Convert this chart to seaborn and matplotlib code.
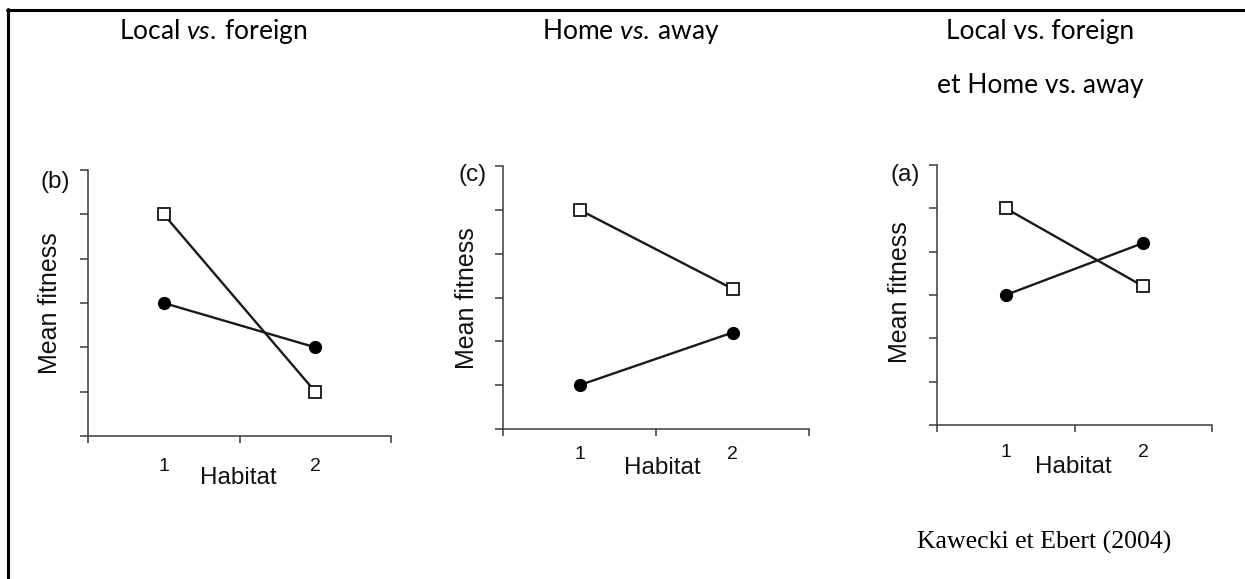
import matplotlib
matplotlib.use("Agg")
import matplotlib.pyplot as plt
import seaborn as sns
import pandas as pd
from matplotlib.lines import Line2D

# ---------------- data ----------------
habitat = [1, 2]
xtick_labels = ["1", "2"]
y_ticks = [0, 1, 2, 3, 4, 5, 6]

b_square = [5, 1]
b_circle = [3, 2]
c_square = [5, 3.2]
c_circle = [1, 2.2]
a_square = [5, 3.2]
a_circle = [3, 4.2]

panel_letters = ["(b)", "(c)", "(a)"]
top_titles = [r"Local $\it{vs.}\:$foreign", r"Home $\it{vs.}\:$away", "Local vs. foreign"]
second_title = "et Home vs. away"
source_text = "Kawecki et Ebert (2004)"
ylabel_text = "Mean fitness"
xlabel_text = "Habitat"

# ---------------- style ----------------
sns.set_style("ticks")
plt.rcParams["font.family"] = ["Liberation Sans", "DejaVu Sans"]
plt.rcParams["mathtext.fontset"] = "custom"
plt.rcParams["mathtext.rm"] = "Lato"
plt.rcParams["mathtext.it"] = "Lato:italic"

W, H = 1245, 579
fig = plt.figure(figsize=(W / 100, H / 100), dpi=100)
fig.patch.set_facecolor("white")


def fx(x):
    return x / W


def fy(y):
    return 1 - y / H


# panel geometry in pixels: left, top, right, bottom
panels = [
    dict(box=(88, 170, 391, 436), sq=b_square, ci=b_circle, ylab=(50, 303),
         xlab=(238, 478), let=(55, 182), pad=15.5),
    dict(box=(503, 166, 809, 429), sq=c_square, ci=c_circle, ylab=(467, 298),
         xlab=(662, 468), let=(473, 175), pad=12),
    dict(box=(937, 165, 1212, 425), sq=a_square, ci=a_circle, ylab=(900, 292),
         xlab=(1073, 467), let=(905, 175), pad=14),
]

line_col = "#1a1a1a"
axis_col = "#3a3a3a"

for p, letter in zip(panels, panel_letters):
    l, t, r, b = p["box"]
    ax = fig.add_axes([fx(l), fy(b), (r - l) / W, (b - t) / H])
    ax.set_facecolor("white")

    sns.lineplot(x=habitat, y=p["sq"], ax=ax, color=line_col, linewidth=1.7,
                 marker="s", markersize=8, markerfacecolor="white",
                 markeredgecolor="black", markeredgewidth=1.2, clip_on=False,
                 zorder=3)
    sns.lineplot(x=habitat, y=p["ci"], ax=ax, color=line_col, linewidth=1.7,
                 marker="o", markersize=8.5, markerfacecolor="black",
                 markeredgecolor="black", markeredgewidth=1.0, clip_on=False,
                 zorder=3)

    ax.set_xlim(0.5, 2.5)
    ax.set_ylim(0, 6)
    ax.set_xticks([0.5, 1.5, 2.5])
    ax.set_xticklabels([])
    ax.set_xticks(habitat, minor=True)
    ax.set_xticklabels(xtick_labels, minor=True)
    ax.set_yticks(y_ticks)
    ax.set_yticklabels([])

    ax.tick_params(axis="x", which="minor", length=0, pad=p["pad"],
                   labelsize=14, labelcolor="#111111")
    ax.tick_params(axis="x", which="major", length=5, width=1.1,
                   color=axis_col, direction="out")
    ax.tick_params(axis="y", which="major", length=6, width=1.1,
                   color=axis_col, direction="out")
    sns.despine(ax=ax)
    for s in ("left", "bottom"):
        ax.spines[s].set_color(axis_col)
        ax.spines[s].set_linewidth(1.1)

    # axis labels
    ax.set_ylabel(ylabel_text, fontsize=18, color="#111111")
    ax.yaxis.label.set_va("center")
    ax.yaxis.label.set_ha("center")
    ax.yaxis.set_label_coords((p["ylab"][0] - l) / (r - l),
                              (b - p["ylab"][1]) / (b - t))
    ax.set_xlabel(xlabel_text, fontsize=17.5, color="#111111")
    ax.xaxis.label.set_va("center")
    ax.xaxis.set_label_coords((p["xlab"][0] - l) / (r - l),
                              (b - p["xlab"][1]) / (b - t))

    fig.text(fx(p["let"][0]), fy(p["let"][1]), letter, fontsize=17.5,
             ha="center", va="center", color="#111111")

# titles
title_pos = [(213, 31), (631, 31), (1040, 31)]
for txt, (x, y) in zip(top_titles, title_pos):
    fig.text(fx(x), fy(y), txt, fontsize=19, family="Lato", ha="center",
             va="center", color="black")
fig.text(fx(1040), fy(85), second_title, fontsize=19, family="Lato",
         ha="center", va="center", color="black")

# source
fig.text(fx(1044), fy(542), source_text, fontsize=18.5,
         family="Liberation Serif", ha="center", va="center", color="black")

# frame lines (top and left)
fig.add_artist(Line2D([fx(7), 1.0], [fy(10), fy(10)], color="black",
                      linewidth=2.2, transform=fig.transFigure))
fig.add_artist(Line2D([fx(8), fx(8)], [fy(9), 0.0], color="black",
                      linewidth=2.2, transform=fig.transFigure))

fig.savefig("out.png", dpi=100)
